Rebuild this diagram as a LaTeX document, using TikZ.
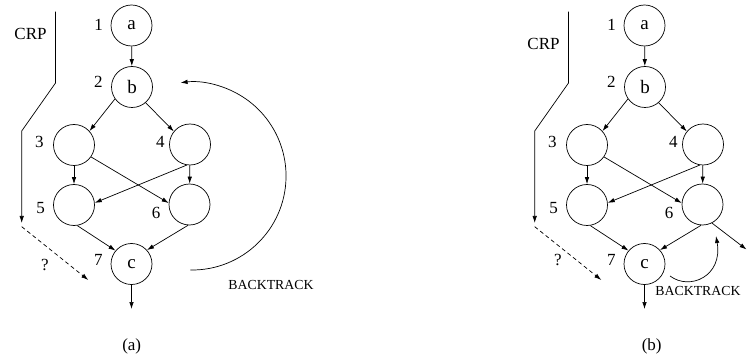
\documentclass[tikz,border=0pt]{standalone}
\usepackage{fontspec}
\setmainfont{Liberation Serif}
\usetikzlibrary{arrows.meta}
\tikzset{
  vtx/.style={circle, draw, minimum size=41pt, inner sep=0pt, font=\fontsize{19}{22}\selectfont},
  num/.style={inner sep=0pt, font=\fontsize{17}{20}\selectfont},
  smalltxt/.style={inner sep=0pt, font=\fontsize{13.8}{16}\selectfont},
  edge/.style={-{Latex[length=7pt,width=4.5pt]}},
  dsh/.style={dash pattern=on 4pt off 3pt},
}
\newcommand\drawpanel[3]{%
  \node[vtx] (#1a) at (131.5,25.5) {a};
  \node[vtx] (#1b) at (132,87) {b};
  \node[vtx] (#1n3) at (74,145) {};
  \node[vtx] (#1n4) at (190,144.5) {};
  \node[vtx] (#1n5) at (74,205) {};
  \node[vtx] (#1n6) at (189.5,204.5) {};
  \node[vtx] (#1c) at (131.5,264) {c};
  \coordinate (#1out) at (131.5,309);
  \node[num] (#1l1) at (98.7,25) {1};
  \node[num] (#1l2) at (98.3,81.7) {2};
  \node[num] (#1l3) at (39.3,141.7) {3};
  \node[num] (#1l4) at (160.3,141.7) {4};
  \node[num] (#1l5) at (40.7,207.7) {5};
  \node[num] (#1l6) at (156,212.7) {6};
  \node[num] (#1l7) at (98.3,260) {7};
  \draw[edge] (#1a) -- (#1b);
  \draw[edge] (#1b.215) -- (#1n3.42);
  \draw[edge] (#1b.-49) -- (#1n4.141);
  \draw[edge] (#1n3) -- (#1n5);
  \draw[edge] (#1n4) -- (#1n6);
  \draw[edge] (#1n3.-35) -- (#1n6.176);
  \draw[edge] (#1n4.-99) -- (#1n5.6);
  \draw[edge] (#1n5.-81) -- (#1c.140);
  \draw[edge] (#1n6.-94) -- (#1c.42);
  \draw[edge] (#1c) -- (#1out);
  % CRP
  \node[num] (#1crp) at (30.5,#2) {CRP};
  \coordinate (#1p1) at (55.5,11.7);
  \coordinate (#1p2) at (55.5,83);
  \coordinate (#1p3) at (21.7,131);
  \coordinate (#1p4) at (21.7,223);
  \coordinate (#1q1) at (21.7,226.7);
  \coordinate (#1q2) at (88.3,280);
  \draw[edge] (#1p1) -- (#1p2) -- (#1p3) -- (#1p4);
  \draw[edge, dsh] (#1q1) -- (#1q2);
  \node[num] (#1qm) at (45,#3) {?};
}
\begin{document}
\begin{tikzpicture}[x=1pt, y=-1pt, line width=0.7pt]
  \useasboundingbox (0,0) rectangle (747,358);
  % panel (a)
  \drawpanel{A}{34}{265}
  \coordinate (Abt1) at (190.4,270);
  \draw[edge] (Abt1) arc[start angle=-91, end angle=97, radius=94pt];
  \node[smalltxt] (Abtxt) at (271,285) {BACKTRACK};
  \node[num] (Acap) at (131.7,346) {(a)};
  % panel (b)
  \begin{scope}[xshift=513pt]
    \drawpanel{B}{44}{260}
    \coordinate (Bexit) at (233.5,249.5);
    \draw[edge] (Bn6.-63) -- (Bexit);
    \coordinate (Bbt1) at (157,276);
    \coordinate (Bbt2) at (203,236);
    \draw[edge] (Bbt1) .. controls (177,291) and (210,276) .. (Bbt2);
    \node[smalltxt] (Bbtxt) at (185,291) {BACKTRACK};
    \node[num] (Bcap) at (138.7,346) {(b)};
  \end{scope}
\end{tikzpicture}
\end{document}
